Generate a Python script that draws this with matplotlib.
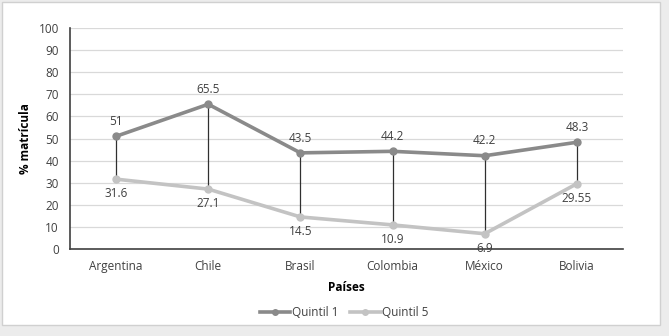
import matplotlib.pyplot as plt
from matplotlib.patches import Rectangle

paises = ["Argentina", "Chile", "Brasil", "Colombia", "México", "Bolivia"]
quintil1 = [51, 65.5, 43.5, 44.2, 42.2, 48.3]
quintil5 = [31.6, 27.1, 14.5, 10.9, 6.9, 29.55]
etiq1 = ["51", "65.5", "43.5", "44.2", "42.2", "48.3"]
etiq5 = ["31.6", "27.1", "14.5", "10.9", "6.9", "29.55"]

plt.rcParams['font.family'] = ['Open Sans', 'DejaVu Sans']
txt = '#404040'
fs = 8.5

fig = plt.figure(figsize=(6.69, 3.36), dpi=100)
fig.patch.set_facecolor('#ececec')
fig.patches.append(Rectangle((2 / 669, 1 - 325 / 336), 658 / 669, 323 / 336,
                             transform=fig.transFigure, facecolor='white',
                             edgecolor='#d0d0d0', linewidth=1, zorder=-10))

ax = fig.add_axes([70 / 669, 1 - 249 / 336, 553 / 669, 221 / 336])
ax.set_facecolor('none')
x = range(len(paises))

# lineas verticales entre quintiles
ax.vlines(x, quintil5, quintil1, color='#303030', linewidth=0.9, zorder=2)
ax.plot(x, quintil1, color='#8a8a8a', linewidth=2.6, marker='o', markersize=5, label='Quintil 1', zorder=3)
ax.plot(x, quintil5, color='#c3c3c3', linewidth=2.6, marker='o', markersize=5, label='Quintil 5', zorder=3)

for i in x:
    ax.annotate(etiq1[i], (i, quintil1[i]), xytext=(0, 6), textcoords='offset points',
                ha='center', va='bottom', fontsize=fs, color=txt)
    ax.annotate(etiq5[i], (i, quintil5[i]), xytext=(0, -6), textcoords='offset points',
                ha='center', va='top', fontsize=fs, color=txt)

ax.set_xlim(-0.5, len(paises) - 0.5)
ax.set_ylim(0, 100)
ax.set_yticks(range(0, 101, 10))
ax.set_xticks(list(x))
ax.set_xticklabels(paises)
ax.tick_params(length=0, labelsize=fs, labelcolor=txt, pad=8)
ax.grid(axis='y', color='#d9d9d9', linewidth=0.9)
ax.set_axisbelow(True)
for s in ['top', 'right']:
    ax.spines[s].set_visible(False)
for s in ['left', 'bottom']:
    ax.spines[s].set_color('#404040')
    ax.spines[s].set_linewidth(1.2)

ax.set_xlabel('Países', fontsize=fs, fontweight='bold', color='black', labelpad=6)
ax.set_ylabel('% matrícula', fontsize=fs, fontweight='bold', color='black')
ax.yaxis.set_label_coords(-0.068, 0.5)

fig.legend(loc='center', bbox_to_anchor=(344 / 669, 1 - 313 / 336), ncol=2, frameon=False,
           fontsize=fs, handlelength=2.6, columnspacing=1.0, handletextpad=0.1,
           labelcolor=txt, markerscale=0.8)

fig.savefig('out.png', dpi=100)
